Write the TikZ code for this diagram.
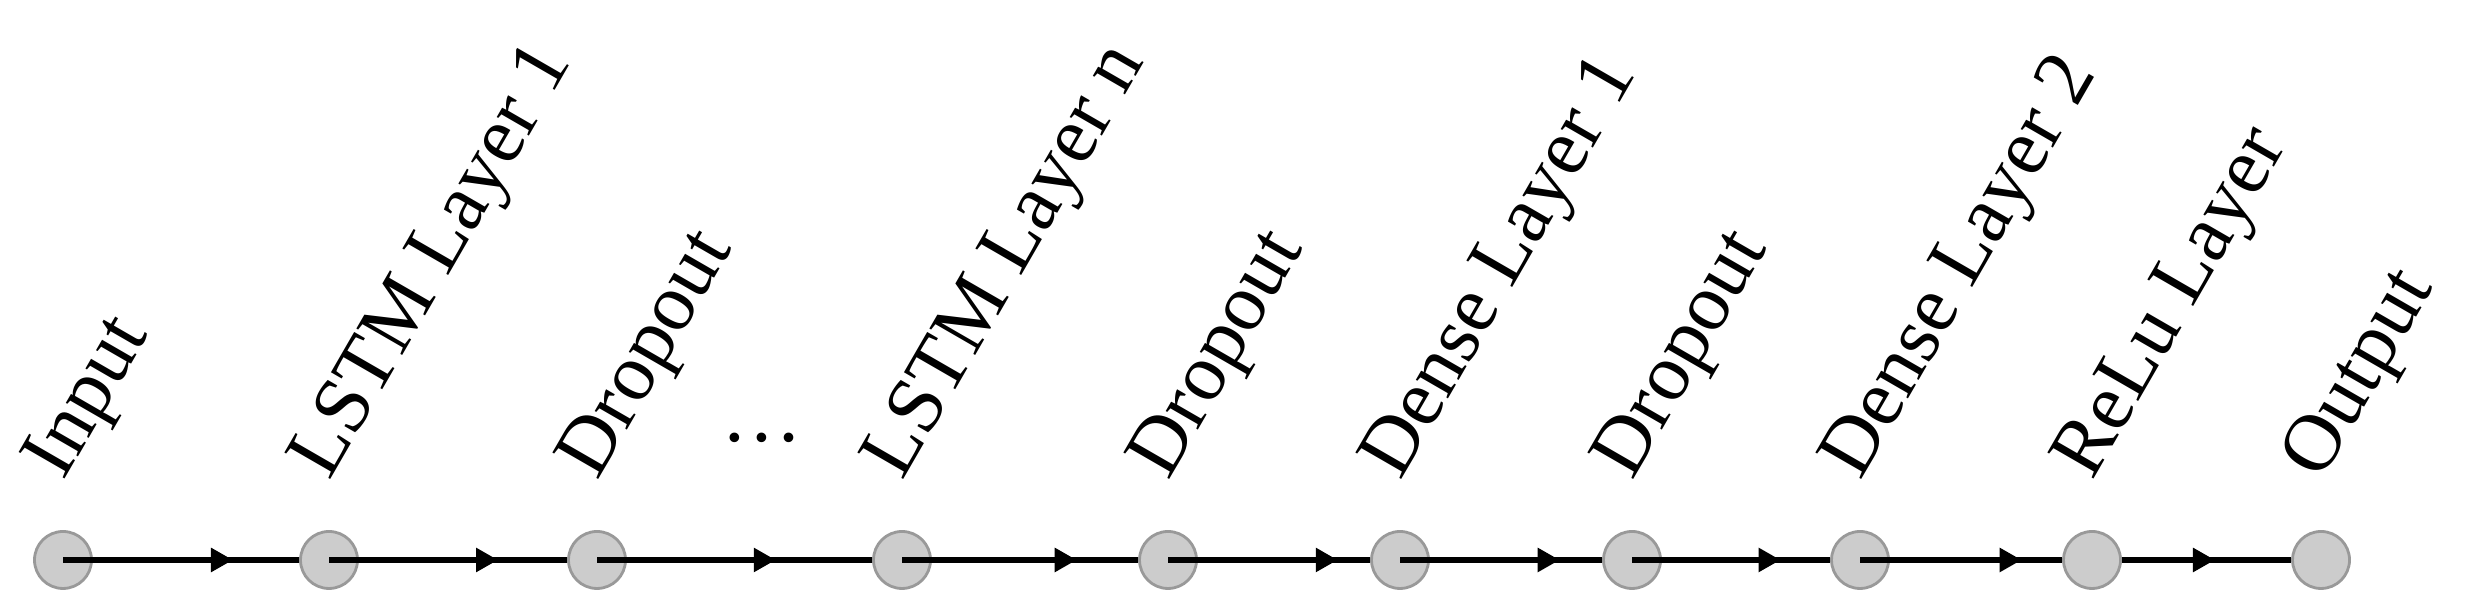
\documentclass[tikz,border=0pt]{standalone}
\usepackage{fontspec}
\setmainfont{Liberation Serif}
\usetikzlibrary{arrows.meta, decorations.markings}

\tikzset{
  layer/.style={circle, minimum size=2.85mm, inner sep=0pt, fill=black!20, draw=black!40, line width=0.4pt},
  lbl/.style={rotate=60, anchor=base west, inner sep=0pt, font=\fontsize{11.5}{13}\selectfont},
  flow/.style={line width=0.9pt, postaction={decorate},
    decoration={markings, mark=at position #1 with {\arrow{Triangle[length=1.1mm, width=1.15mm]}}}}
}

\begin{document}
\begin{tikzpicture}
            \useasboundingbox (0,0) rectangle (12.33,3.04);

            \foreach \x/\n/\t in {0.315/in/Input, 1.645/l1/LSTM Layer 1, 2.985/d1/Dropout,
                                  4.51/ln/LSTM Layer n, 5.84/d2/Dropout, 7.00/de1/Dense Layer 1,
                                  8.16/d3/Dropout, 9.30/de2/Dense Layer 2, 10.46/relu/ReLu Layer,
                                  11.605/out/Output}
            {
              \node[layer] (\n) at (\x,0.24) {};
              \node[lbl] (\n-t) at ([yshift=3.85mm]\n.center) {\t};
            }

            \node[anchor=base, font=\fontsize{11.5}{13}\selectfont] (dots) at (3.81,0.83) {\dots};

            \foreach \a/\b/\p in {in/l1/0.72, l1/d1/0.71, d1/ln/0.65, ln/d2/0.74,
                                  d2/de1/0.84, de1/d3/0.79, d3/de2/0.75, de2/relu/0.80}
              \draw[flow=\p] (\a.center) -- (\b);

            \draw[flow=0.55] (relu) -- (out);
        \end{tikzpicture}
\end{document}
